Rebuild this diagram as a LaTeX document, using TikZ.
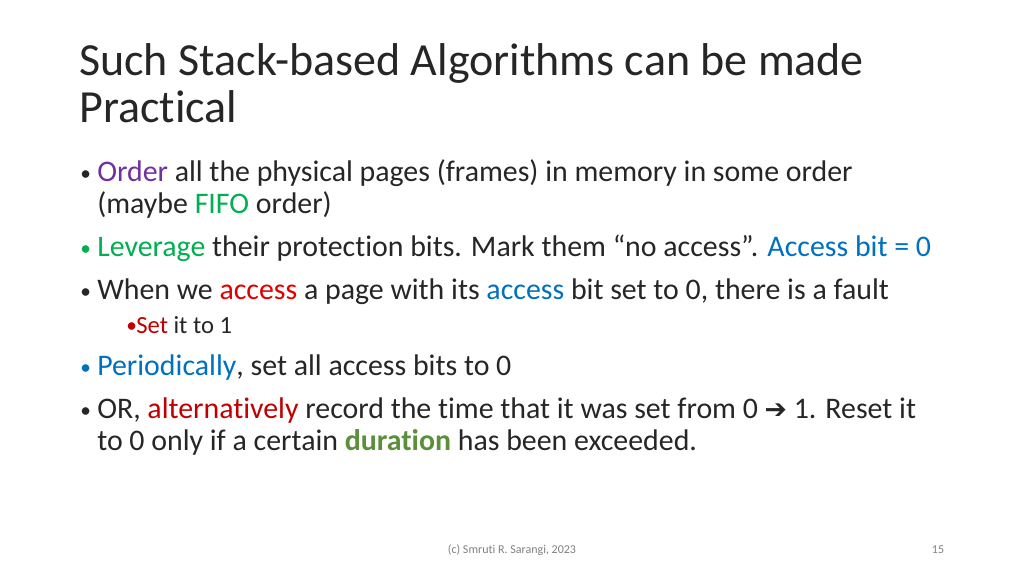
\documentclass[tikz,border=0pt]{standalone}
\usepackage{fontspec}
\setmainfont[Ligatures={NoCommon}]{Carlito}
\definecolor{cpurple}{HTML}{7030A0}
\definecolor{cgreen}{HTML}{00B050}
\definecolor{cblue}{HTML}{0070C0}
\definecolor{cred}{HTML}{E00000}
\definecolor{cdred}{HTML}{C00000}
\definecolor{colive}{HTML}{5B8F3A}
\definecolor{ctext}{HTML}{262626}
\begin{document}
\begin{tikzpicture}[x=0.75pt,y=-0.75pt,
  txt/.style={anchor=base west,inner sep=0pt,text=ctext,font=\fontsize{22.4}{26}\selectfont},
  blt/.style={anchor=base west,inner sep=0pt,text=ctext,font=\fontsize{16}{18}\selectfont},
  ttl/.style={anchor=base west,inner sep=0pt,text=ctext,font=\fontsize{34.5}{40}\selectfont},
  sub/.style={anchor=base west,inner sep=0pt,text=ctext,font=\fontsize{18.5}{22}\selectfont},
  foot/.style={anchor=base,inner sep=0pt,text=gray,font=\fontsize{9}{11}\selectfont}]
\useasboundingbox[fill=white] (0,0) rectangle (1024,576);
\node[ttl] (t1) at (79,75) {Such Stack-based Algorithms can be made};
\node[ttl] (t2) at (79,122) {Practical};
\node[blt] (b1) at (80,180) {•};
\node[txt] (l1) at (97,181) {\textcolor{cpurple}{Order} all the physical pages (frames) in memory in some order};
\node[txt] (l1b) at (97,213) {(maybe \textcolor{cgreen}{FIFO} order)};
\node[blt] (b2) at (80,255) {\textcolor{cgreen}{•}};
\node[txt] (l2) at (97,256) {\textcolor{cgreen}{Leverage} their protection bits. Mark them “no access”. \textcolor{cblue}{Access bit = 0}};
\node[blt] (b3) at (80,298) {•};
\node[txt] (l3) at (97,299) {When we \textcolor{cred}{access} a page with its \textcolor{cblue}{access} bit set to 0, there is a fault};
\node[blt] (b4) at (126,332) {\textcolor{cdred}{•}};
\node[sub] (l4) at (136,333) {\textcolor{cdred}{Set} it to 1};
\node[blt] (b5) at (80,374) {\textcolor{cblue}{•}};
\node[txt] (l5) at (97,375) {\textcolor{cblue}{Periodically}, set all access bits to 0};
\node[blt] (b6) at (80,417) {•};
\node[txt] (l6) at (97,418) {OR, \textcolor{cdred}{alternatively} record the time that it was set from 0 {\fontspec{DejaVu Sans}\fontsize{20}{22}\selectfont\bfseries ➔} 1. Reset it};
\node[txt] (l6b) at (97,450) {to 0 only if a certain \textcolor{colive}{\bfseries duration} has been exceeded.};
\node[foot] (f1) at (512,553) {(c) Smruti R. Sarangi, 2023};
\node[foot] (f2) at (938,553) {15};
\end{tikzpicture}
\end{document}
